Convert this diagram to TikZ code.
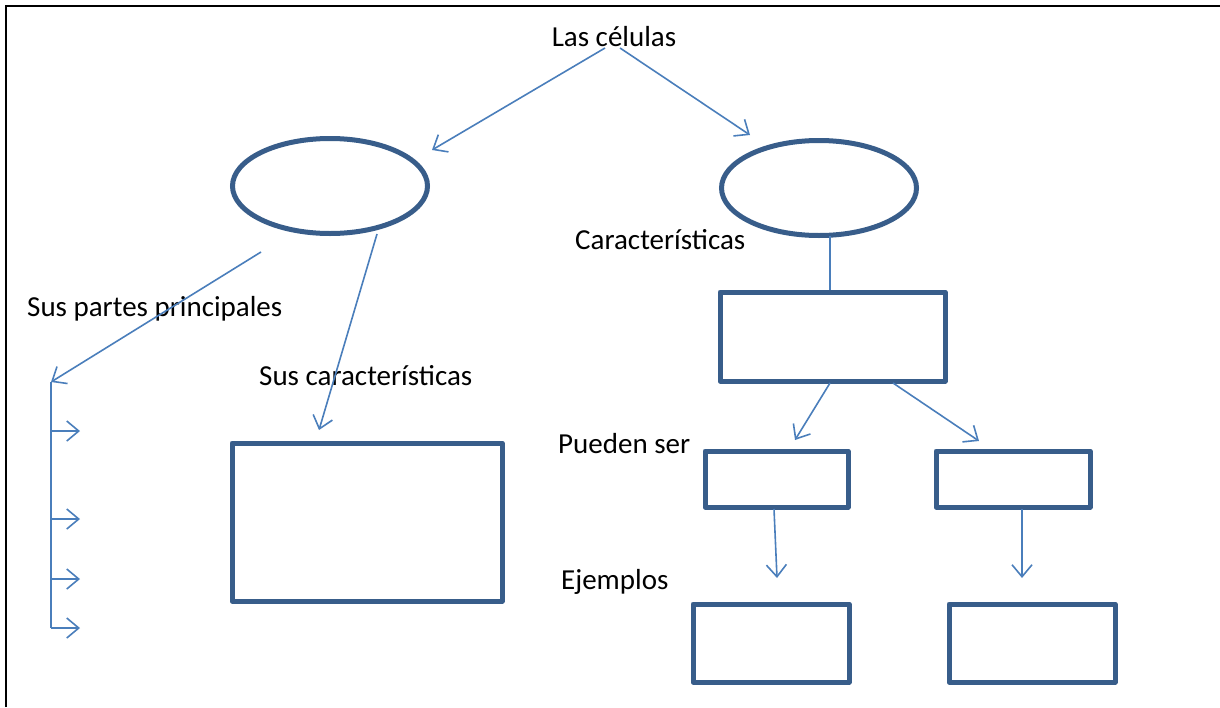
\documentclass[tikz,border=0pt]{standalone}
\usepackage{fontspec}
\setmainfont{Carlito}
\usetikzlibrary{arrows.meta,shapes.geometric}
\definecolor{boxblue}{HTML}{385D8A}
\definecolor{arrblue}{HTML}{4A7EBB}
\begin{document}
\begin{tikzpicture}[x=1pt,y=-1pt,
  lbl/.style={font=\fontsize{29}{34}\selectfont, inner sep=0pt},
  ell/.style={ellipse, draw=boxblue, line width=5pt, minimum width=195pt, minimum height=95pt, inner sep=0pt},
  bx/.style={draw=boxblue, line width=5pt, rectangle, inner sep=0pt, line join=round},
  arr/.style={draw=arrblue, line width=1.6pt, -{Straight Barb[length=12pt,width=20pt]}},
  ln/.style={draw=arrblue, line width=1.6pt}]
\useasboundingbox (0,0) rectangle (1220,707);
\draw[line width=2pt] (6,707) -- (6,6) -- (1220,6);

% texts
\node[lbl, anchor=base] (title) at (614,46) {Las células};
\node[lbl, anchor=base west] (tpartes) at (27,316) {Sus partes principales};
\node[lbl, anchor=base west] (tcarac) at (259,385) {Sus características};
\node[lbl, anchor=base west] (tcar2) at (575,249) {Características};
\node[lbl, anchor=base west] (tpued) at (558,453) {Pueden ser};
\node[lbl, anchor=base west] (tejem) at (561,589) {Ejemplos};

% ellipses
\node[ell] (e1) at (330,186) {};
\node[ell] (e2) at (819,188) {};

% boxes
\node[bx, minimum width=225pt, minimum height=89pt] (b0) at (832.5,336.5) {};
\node[bx, minimum width=143pt, minimum height=56pt] (b1) at (776.5,479) {};
\node[bx, minimum width=154pt, minimum height=56pt] (b2) at (1013,479) {};
\node[bx, minimum width=156pt, minimum height=78pt] (b3) at (771,643) {};
\node[bx, minimum width=166pt, minimum height=78pt] (b4) at (1032,643) {};
\node[bx, minimum width=270pt, minimum height=158pt] (bL) at (367,522) {};

% connector end points
\coordinate (t1) at (605,48);
\coordinate (t2) at (620,48);
\coordinate (e1tip) at (432,150);
\coordinate (e2tip) at (750,135);
\coordinate (e1a) at (261,252);
\coordinate (e1b) at (377,234);
\coordinate (vtop) at (51,382);
\coordinate (v1) at (51,431);
\coordinate (v2) at (51,519);
\coordinate (v3) at (51,579);
\coordinate (v4) at (51,628);
\coordinate (h1) at (80,431);
\coordinate (h2) at (80,519);
\coordinate (h3) at (80,579);
\coordinate (h4) at (80,628);
\coordinate (bLtip) at (319,430);
\coordinate (e2s) at (830,236);
\coordinate (b0s1) at (830,383);
\coordinate (b0s2) at (893,383);
\coordinate (b1tip) at (795,440);
\coordinate (b2tip) at (979,441);
\coordinate (b1s) at (774,509);
\coordinate (b2s) at (1022,509);
\coordinate (b3tip) at (777,578);
\coordinate (b4tip) at (1022,578);

% connectors
\draw[arr] (t1) -- (e1tip);
\draw[arr] (t2) -- (e2tip);
\draw[arr] (e1a) -- (vtop);
\draw[ln] (vtop) -- (v4);
\draw[arr] (v1) -- (h1);
\draw[arr] (v2) -- (h2);
\draw[arr] (v3) -- (h3);
\draw[arr] (v4) -- (h4);
\draw[arr] (e1b) -- (bLtip);
\draw[ln] (e2s) -- (e2s |- b0.north);
\draw[arr] (b0s1) -- (b1tip);
\draw[arr] (b0s2) -- (b2tip);
\draw[arr] (b1s) -- (b3tip);
\draw[arr] (b2s) -- (b4tip);
\end{tikzpicture}
\end{document}
